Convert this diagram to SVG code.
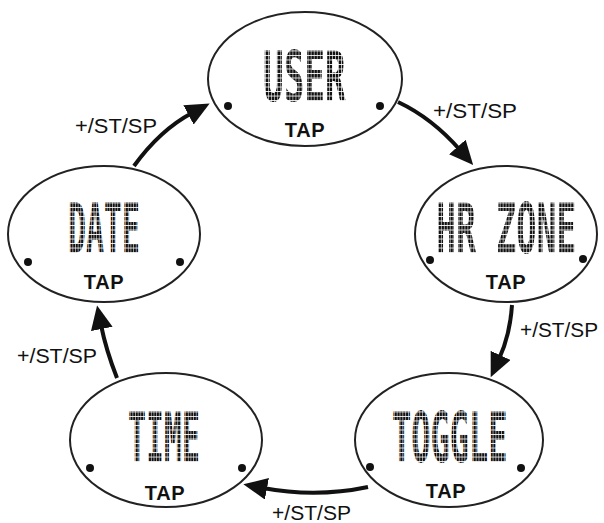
<svg xmlns="http://www.w3.org/2000/svg" width="604" height="523" viewBox="0 0 604 523">
<style>
.node ellipse{fill:#fff;stroke:#222;stroke-width:2}
.dot{fill:#111}
.lcd{font-family:"DejaVu Sans Mono","Liberation Mono",monospace;font-weight:bold;font-size:34px;fill:url(#lcdPat)}
.tap{font-family:"Liberation Sans",Arial,sans-serif;font-weight:bold;font-size:20px;letter-spacing:0.6px;fill:#111;text-anchor:middle}
.lbl{font-family:"Liberation Sans",Arial,sans-serif;font-size:20px;fill:#111}
.conn path{fill:none;stroke:#111;stroke-width:4;marker-end:url(#ah)}
</style>
<defs>
<pattern id="lcdPat" patternUnits="userSpaceOnUse" width="3" height="2.2">
<rect x="0" y="0" width="2.4" height="1.8" fill="#111"/>
</pattern>
<marker id="ah" markerUnits="userSpaceOnUse" viewBox="0 0 24 22" markerWidth="24" markerHeight="22" refX="4" refY="11" orient="auto">
<path d="M0,0 L24,11 L0,22 z" fill="#111"/>
</marker>
</defs>
<rect width="604" height="523" fill="#fff"/>
<g id="connectors" class="conn">
<path d="M134,166 Q160,130 192,113"/>
<path d="M398,102 Q432,118 460,150"/>
<path d="M512,305 Q510,335 499,359"/>
<path d="M368,487 Q316,498 263,488"/>
<path d="M117,378 Q106,350 101,325"/>
</g>
<g id="labels">
<text class="lbl" x="75" y="133" textLength="82" lengthAdjust="spacingAndGlyphs">+/ST/SP</text>
<text class="lbl" x="433" y="118" textLength="84" lengthAdjust="spacingAndGlyphs">+/ST/SP</text>
<text class="lbl" x="520" y="337" textLength="78" lengthAdjust="spacingAndGlyphs">+/ST/SP</text>
<text class="lbl" x="272" y="520" textLength="79" lengthAdjust="spacingAndGlyphs">+/ST/SP</text>
<text class="lbl" x="17" y="363" textLength="80" lengthAdjust="spacingAndGlyphs">+/ST/SP</text>
</g>
<g id="user" class="node">
<ellipse cx="305" cy="79" rx="97" ry="67"/>
<text class="lcd" transform="translate(263,101) scale(1.01,2.05)">USER</text>
<circle class="dot" cx="228" cy="106" r="4"/>
<circle class="dot" cx="380" cy="106" r="4"/>
<text class="tap" x="305" y="137">TAP</text>
</g>
<g id="hrzone" class="node">
<ellipse cx="506" cy="234" rx="91" ry="68"/>
<text class="lcd" transform="translate(436,253) scale(0.98,2.05)">HR ZONE</text>
<circle class="dot" cx="430" cy="260" r="4"/>
<circle class="dot" cx="583" cy="259" r="4"/>
<text class="tap" x="506" y="289">TAP</text>
</g>
<g id="toggle" class="node">
<ellipse cx="449" cy="440" rx="94" ry="67"/>
<text class="lcd" transform="translate(392,462) scale(0.94,2.05)">TOGGLE</text>
<circle class="dot" cx="370" cy="467" r="4"/>
<circle class="dot" cx="521" cy="468" r="4"/>
<text class="tap" x="446" y="498">TAP</text>
</g>
<g id="time" class="node">
<ellipse cx="166" cy="440" rx="96" ry="67"/>
<text class="lcd" transform="translate(128,462) scale(0.88,2.05)">TIME</text>
<circle class="dot" cx="90" cy="468" r="4"/>
<circle class="dot" cx="242" cy="468" r="4"/>
<text class="tap" x="165" y="500">TAP</text>
</g>
<g id="date" class="node">
<ellipse cx="104" cy="234" rx="96" ry="68"/>
<text class="lcd" transform="translate(68,253) scale(0.88,2.05)">DATE</text>
<circle class="dot" cx="28" cy="262" r="4"/>
<circle class="dot" cx="180" cy="262" r="4"/>
<text class="tap" x="104" y="289">TAP</text>
</g>
</svg>
